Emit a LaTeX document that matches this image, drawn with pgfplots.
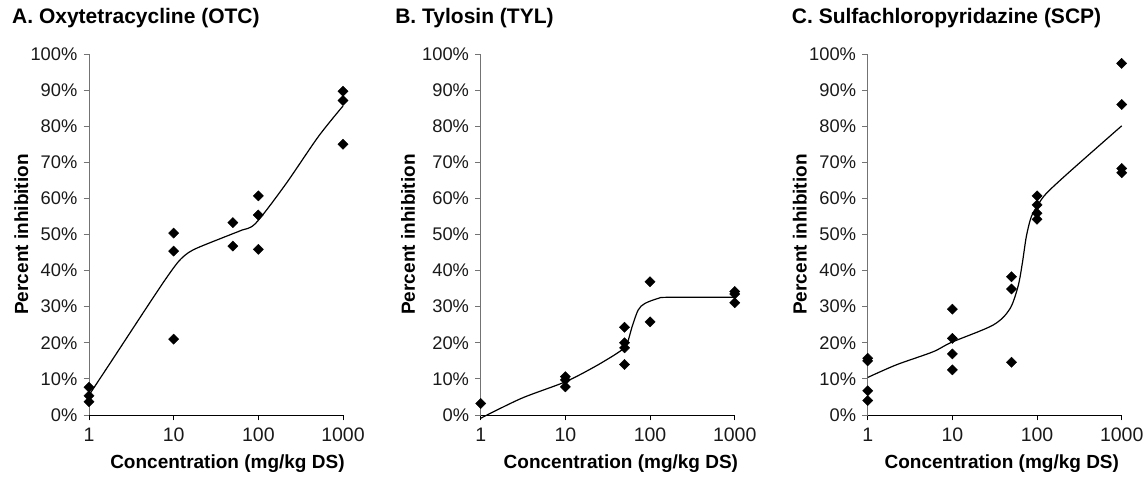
\documentclass[border=0pt]{standalone}
\usepackage{fontspec}
\setmainfont{Liberation Sans}
\usepackage{pgfplots}
\pgfplotsset{compat=1.18}
\pgfplotsset{
 panel/.style={
  anchor=south west, scale only axis, width=254pt, height=361pt,
  xmin=1, xmax=1000, ymin=0, ymax=100,
  axis x line=bottom, axis y line=left,
  axis line style={-},
  x axis line style={black, line width=0.9pt},
  y axis line style={black!55, line width=0.9pt},
  xtick={1,10,100,1000}, xticklabels={1,10,100,1000},
  ytick={0,10,20,30,40,50,60,70,80,90,100},
  yticklabels={0\%,10\%,20\%,30\%,40\%,50\%,60\%,70\%,80\%,90\%,100\%},
  xminorticks=false, yminorticks=false,
  tick align=outside, major tick length=5.5pt,
  xtick style={black, line width=0.9pt},
  ytick style={black!55, line width=0.9pt},
  yticklabel style={font=\fontsize{18.3}{20}\selectfont, text=black!90, inner sep=0pt, xshift=-6pt},
  xticklabel style={font=\fontsize{19.5}{22}\selectfont, text=black!90, inner sep=0pt, yshift=-7pt},
  clip=false,
  xlabel={Concentration (mg/kg DS)},
  ylabel={Percent inhibition},
  xlabel style={anchor=base, inner sep=0pt, font=\bfseries\fontsize{19}{22}\selectfont},
  ylabel style={anchor=center, inner sep=0pt, font=\bfseries\fontsize{19}{22}\selectfont},
  title style={anchor=base west, inner sep=0pt, font=\bfseries\fontsize{21}{24}\selectfont},
 },
 pts/.style={only marks, mark=square*, mark size=3.6pt, mark options={rotate=45, fill=black, draw=black}},
 fit/.style={black, line width=1.2pt, no marks},
}
\begin{document}
\begin{tikzpicture}
\path[use as bounding box] (0pt,0pt) rectangle (1143pt,478pt);
% ---------- A ----------
\begin{semilogxaxis}[panel, at={(89pt,63pt)},
  title={A. Oxytetracycline (OTC)},
  title style={at={(axis description cs:-0.303,1.068)}},
  xlabel style={at={(axis description cs:0.545,-0.148)}},
  ylabel style={at={(axis description cs:-0.266,0.5)}}]
\addplot[fit, smooth] coordinates {(1,5.5) (1.77,14.3) (4.59,29.1) (7.9,37.4) (11.4,42.5) (15,45.0) (20.5,46.6) (48.5,50.1) (63.7,51.2) (93,53.1) (207,63.7) (511,77.1) (1000,85.6)};
\addplot[pts] coordinates {(1,7.7) (1,5.3) (1,3.7) (10,50.4) (10,45.4) (10,21.0) (50,53.3) (50,46.8) (100,60.7) (100,55.4) (100,45.9) (1000,89.7) (1000,87.1) (1000,75.0)};
\end{semilogxaxis}
% ---------- B ----------
\begin{semilogxaxis}[panel, at={(480.7pt,63pt)},
  title={B. Tylosin (TYL)},
  title style={at={(axis description cs:-0.337,1.068)}},
  xlabel style={at={(axis description cs:0.552,-0.148)}},
  ylabel style={at={(axis description cs:-0.286,0.5)}}]
\addplot[fit, smooth] coordinates {(1,-0.9) (3.02,4.6) (10,9.2) (22.3,13.4) (42,17.3) (52.7,19.4) (61.5,24.5) (72.5,29.1) (87,30.9) (125,32.3) (164,32.6) (1000,32.6)};
\addplot[pts] coordinates {(1,3.2) (10,10.6) (10,9.7) (10,7.8) (50,24.3) (50,20.0) (50,18.6) (50,14.0) (100,36.9) (100,25.8) (1000,34.2) (1000,33.5) (1000,31.1)};
\end{semilogxaxis}
% ---------- C ----------
\begin{semilogxaxis}[panel, at={(867.7pt,63pt)},
  title={C. Sulfachloropyridazine (SCP)},
  title style={at={(axis description cs:-0.299,1.068)}},
  xlabel style={at={(axis description cs:0.528,-0.148)}},
  ylabel style={at={(axis description cs:-0.267,0.5)}}]
\addplot[fit, smooth] coordinates {(1,10.4) (2.18,13.9) (5.9,17.5) (9.7,20.1) (30.2,24.9) (47.5,29.3) (59.6,35.6) (67,42.0) (74.7,49.4) (85.5,54.9) (102.6,58.2) (129,61.4) (243,67.4) (1000,80.1)};
\addplot[pts] coordinates {(1,15.7) (1,15.0) (1,6.7) (1,4.0) (10,29.3) (10,21.2) (10,16.9) (10,12.5) (50,38.3) (50,34.9) (50,14.6) (100,60.7) (100,58.2) (100,55.9) (100,54.2) (1000,97.4) (1000,86.0) (1000,68.3) (1000,67.1)};
\end{semilogxaxis}
\end{tikzpicture}
\end{document}
